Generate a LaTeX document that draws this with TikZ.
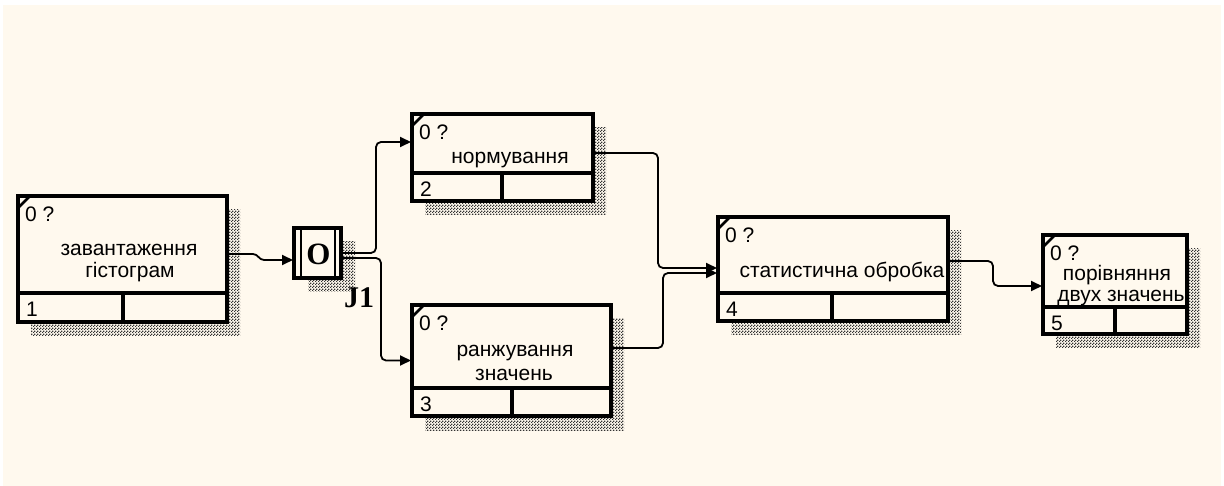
\documentclass[tikz,border=0pt]{standalone}
\usepackage{fontspec}
\setmainfont{Liberation Sans}
\newfontfamily\junctionfont{Liberation Serif}
\usetikzlibrary{patterns,arrows.meta,calc}
\definecolor{paper}{HTML}{FFF9EE}

% fine dither used for the drop shadows
\pgfdeclarepatternformonly{dither}{\pgfqpoint{0pt}{0pt}}{\pgfqpoint{3pt}{3pt}}{\pgfqpoint{3pt}{3pt}}{%
  \pgfpathrectangle{\pgfqpoint{0pt}{0pt}}{\pgfqpoint{1.5pt}{1.5pt}}%
  \pgfpathrectangle{\pgfqpoint{1.5pt}{1.5pt}}{\pgfqpoint{1.5pt}{1.5pt}}%
  \pgfusepath{fill}}

% unit of work box: name, x1, y1, x2, y2, divider y, divider x, number
\newcommand\uowbox[8]{%
  \fill[shadow] (#2+13,#3+14) rectangle (#4+13,#5+14);
  \node[uob, minimum width=#4-#2, minimum height=#5-#3, anchor=north west] (#1) at (#2,#3) {};
  \draw[divider] (#2,#6) -- (#4,#6);
  \draw[divider] (#7,#6) -- (#7,#5);
  \draw[corner] (#2,#3+12) -- (#2+12,#3);
  \node[lbl, anchor=west] at (#2+7,#3+18) {0 ?};
  \node[lbl, anchor=west] at (#2+8,{(#6+#5)/2+2}) {#8};
}

\begin{document}
\begin{tikzpicture}[x=1pt,y=-1pt,
  uob/.style={draw=black, line width=3.5pt, fill=paper, inner sep=0pt, outer sep=0pt},
  divider/.style={line width=3.5pt},
  corner/.style={line width=2.5pt},
  shadow/.style={pattern=dither, pattern color=black!80},
  lbl/.style={font=\fontsize{21}{24}\selectfont, inner sep=0pt},
  link/.style={line width=1.8pt, rounded corners=5pt, -{Triangle[length=11pt,width=10pt]}},
]
\useasboundingbox (0,0) rectangle (1224,486);
\fill[white] (0,0) rectangle (1224,486);
\fill[paper] (3,5) rectangle (1221,486);

% units of work
\uowbox{b1}{18}{196}{227}{322}{293}{123}{1}
\node[lbl] at (129,250) {завантаження};
\node[lbl] at (130,272) {гістограм};

\uowbox{b2}{412}{114}{593}{201}{173}{502}{2}
\node[lbl] at (510,160) {нормування};

\uowbox{b3}{412}{305}{611}{416}{388}{512}{3}
\node[lbl] at (515,353) {ранжування};
\node[lbl] at (514,375) {значень};

\uowbox{b4}{718}{217}{948}{321}{293}{832}{4}
\node[lbl] at (842,272) {статистична обробка};

\fill[shadow] (1043+13,235+14) rectangle (1187+13,334+14);
\node[uob, minimum width=144, minimum height=99, anchor=north west] (b5) at (1043,235) {};
\node[lbl] at (1117,275) {порівняння};
\node[lbl] at (1121,298) {двух значень};
\draw[divider] (1043,307) -- (1187,307);
\draw[divider] (1115,307) -- (1115,334);
\draw[corner] (1043,247) -- (1055,235);
\node[lbl, anchor=west] at (1050,253) {0 ?};
\node[lbl, anchor=west] at (1051,323) {5};

% junction J1
\fill[shadow] (294+14,228+14) rectangle (341+14,278+14);
\node[uob, minimum width=47, minimum height=50, anchor=north west] (j1) at (294,228) {};
\draw[corner] ($(j1.north west)+(7,0)$) -- ($(j1.south west)+(7,0)$);
\draw[corner] ($(j1.north east)+(-6,0)$) -- ($(j1.south east)+(-6,0)$);
\node[inner sep=0pt, font=\junctionfont\bfseries\fontsize{31}{33}\selectfont] at ($(j1.center)+(1,1)$) {O};
\node[inner sep=0pt, font=\junctionfont\bfseries\fontsize{30}{32}\selectfont] (j1label) at ($(j1.south east)+(18,20)$) {J1};

% precedence links
\draw[link, rounded corners=0pt] ($(b1.east)+(0,-5)$) -- ++(26,0)
  .. controls ++(5,0) and ++(-5,0) .. ($(j1.west)+(-30,7)$) -- ($(j1.west)+(-1,7)$);
\draw[link] (j1.east) -| ($(b2.west)+(-36,-15.5)$) -- ($(b2.west)+(-1,-15.5)$);
\draw[link] ($(j1.east)+(0,5)$) -| ($(b3.west)+(-31,0)$) -- ($(b3.west)+(-1,0)$);
\draw[link] ($(b2.east)+(0,-4.5)$) -| ($(b4.west)+(-60,-1)$) -- ($(b4.west)+(-1,-1)$);
\draw[link] ($(b3.east)+(0,-12.5)$) -| ($(b4.west)+(-55,4)$) -- ($(b4.west)+(-1,4)$);
\draw[link] ($(b4.east)+(0,-8)$) -| ($(b5.west)+(-50,1.5)$) -- ($(b5.west)+(-1,1.5)$);
\end{tikzpicture}
\end{document}
